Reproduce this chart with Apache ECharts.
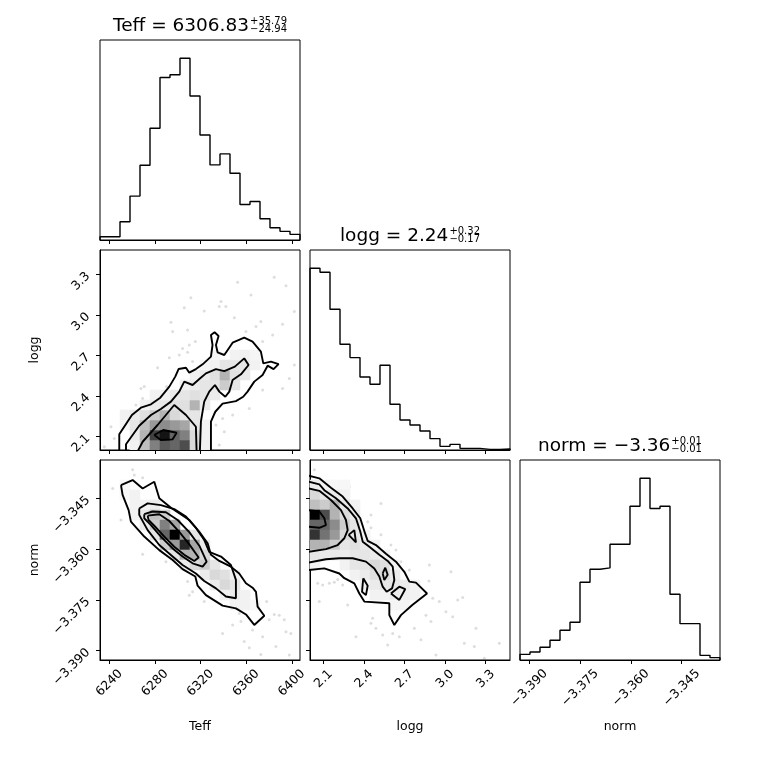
<!DOCTYPE html>
<html>
<head>
<meta charset="utf-8">
<title>corner plot</title>
<script src="https://cdn.jsdelivr.net/npm/echarts@6/dist/echarts.min.js"></script>
<style>
  html, body { margin:0; padding:0; background:#fff; }
  #chart { width:760px; height:760px; }
</style>
</head>
<body>
<div id="chart"></div>
<script>
// plotted range of each parameter (20 histogram bins across each)
const teffRange = [6231.8, 6407.2];
const loggRange = [2.0, 3.48];
const normRange = [-3.39275, -3.33369];

const teffTicks = [6240, 6280, 6320, 6360, 6400];
const loggTicks = [2.1, 2.4, 2.7, 3.0, 3.3];
const normTicks = [-3.390, -3.375, -3.360, -3.345];

// titles: label, median, +err, -err
const teffTitle = ['Teff', '6306.83', '+35.79', '\u221224.94'];
const loggTitle = ['logg', '2.24', '+0.32', '\u22120.17'];
const normTitle = ['norm', '\u22123.36', '+0.01', '\u22120.01'];

// 1D histograms (counts per bin)
const teffHist = [10, 10, 55, 132, 225, 336, 489, 497, 547, 433, 316, 226, 259, 201, 107, 116, 64, 37, 26, 17];
const loggHist = [545, 533, 422, 317, 277, 219, 197, 254, 137, 90, 75, 57, 34, 11, 17, 5, 5, 2, 2, 3];
const normHist = [17, 24, 38, 59, 89, 113, 233, 272, 276, 347, 347, 461, 545, 454, 461, 197, 109, 109, 14, 7];

// 2D density cells: [x bin, y bin, shade 0..1]
const teffLoggCells = [
  [3,0,.05],[4,0,.25],[5,0,.5],[6,0,.65],[7,0,.6],[8,0,.7],[9,0,.15],[10,0,.06],
  [3,1,.08],[4,1,.3],[5,1,.75],[6,1,.92],[7,1,.6],[8,1,.5],[9,1,.15],[10,1,.05],
  [2,2,.04],[3,2,.1],[4,2,.25],[5,2,.4],[6,2,.45],[7,2,.4],[8,2,.35],[9,2,.1],[10,2,.05],
  [2,3,.05],[3,3,.08],[4,3,.12],[5,3,.2],[6,3,.3],[7,3,.15],[8,3,.1],[9,3,.1],
  [4,4,.05],[5,4,.08],[6,4,.1],[7,4,.12],[8,4,.12],[9,4,.3],[10,4,.08],
  [5,5,.05],[6,5,.05],[7,5,.08],[8,5,.1],[9,5,.12],[10,5,.1],[11,5,.08],
  [8,6,.06],[9,6,.08],[10,6,.1],[11,6,.1],[12,6,.2],[13,6,.1],
  [9,7,.05],[10,7,.08],[11,7,.12],[12,7,.3],[13,7,.12],[14,7,.08],
  [10,8,.04],[11,8,.05],[12,8,.1],[13,8,.1],[14,8,.1],[15,8,.05],
  [11,9,.04],[13,9,.05],[14,9,.06],[15,9,.04]
];
const teffNormCells = [
  [2,17,.03],[2,16,.03],[3,16,.05],
  [3,15,.05],[4,15,.05],[5,15,.08],
  [3,14,.05],[4,14,.1],[5,14,.25],[6,14,.2],
  [4,13,.08],[5,13,.2],[6,13,.5],[7,13,.35],
  [5,12,.1],[6,12,.6],[7,12,1.0],[8,12,.4],[9,12,.1],
  [6,11,.2],[7,11,.4],[8,11,.85],[9,11,.35],[10,11,.08],
  [7,10,.1],[8,10,.3],[9,10,.3],[10,10,.15],
  [8,9,.08],[9,9,.15],[10,9,.2],[11,9,.1],
  [10,8,.08],[11,8,.15],[12,8,.12],[13,8,.05],
  [11,7,.08],[12,7,.15],[13,7,.1],
  [12,6,.05],[13,6,.08],[14,6,.05],
  [13,5,.05],[14,5,.05],[15,5,.03]
];
const loggNormCells = [
  [0,17,.08],[1,17,.05],[2,17,.03],[3,17,.03],
  [0,16,.15],[1,16,.1],[2,16,.08],[3,16,.05],
  [0,15,.25],[1,15,.2],[2,15,.3],[3,15,.1],[4,15,.05],
  [0,14,1.0],[1,14,.7],[2,14,.3],[3,14,.15],[4,14,.08],
  [0,13,.6],[1,13,.6],[2,13,.45],[3,13,.2],[4,13,.1],
  [0,12,.8],[1,12,.55],[2,12,.4],[3,12,.15],[4,12,.1],[5,12,.05],
  [0,11,.3],[1,11,.3],[2,11,.2],[3,11,.1],[4,11,.12],[5,11,.08],[6,11,.05],
  [0,10,.1],[1,10,.08],[2,10,.08],[3,10,.08],[4,10,.1],[5,10,.1],[6,10,.08],[7,10,.05],
  [0,9,.05],[3,9,.05],[4,9,.1],[5,9,.1],[6,9,.15],[7,9,.12],[8,9,.05],
  [4,8,.05],[5,8,.08],[6,8,.12],[7,8,.15],[8,8,.08],
  [5,7,.05],[6,7,.08],[7,7,.1],[8,7,.1],[9,7,.08],[10,7,.05],
  [6,6,.05],[7,6,.05],[8,6,.08],[9,6,.06],[10,6,.05],
  [8,5,.04],[9,5,.04]
];

// contour lines, traced in data units
const teffLoggContours = [
  [[6248.7,1.99],[6248.7,2.116],[6259.8,2.259],[6267.7,2.313],[6276.5,2.338],[6284.7,2.387],[6292.6,2.469],[6297.8,2.543],[6300.7,2.599],[6307.2,2.609],[6310.1,2.572],[6315.9,2.599],[6321.8,2.634],[6329.1,2.691],[6330.5,2.777],[6329.1,2.851],[6332.3,2.871],[6335.8,2.844],[6333.5,2.777],[6334.9,2.723],[6340.8,2.703],[6348.1,2.794],[6358.3,2.831],[6365.6,2.802],[6372.9,2.728],[6375.0,2.641],[6381.7,2.654],[6388.4,2.636],[6384.0,2.599],[6378.8,2.624],[6374.4,2.555],[6367.1,2.506],[6361.2,2.432],[6357.4,2.394],[6351.0,2.362],[6339.3,2.343],[6332.9,2.283],[6329.1,2.210],[6329.1,1.99]],
  [[6254.6,1.99],[6254.6,2.042],[6266.2,2.180],[6276.5,2.259],[6285.2,2.303],[6294.0,2.358],[6301.3,2.432],[6305.7,2.506],[6313.0,2.481],[6318.9,2.525],[6324.7,2.567],[6333.5,2.599],[6340.8,2.584],[6350.1,2.617],[6358.3,2.678],[6362.1,2.629],[6355.4,2.560],[6348.1,2.518],[6345.2,2.432],[6341.7,2.394],[6336.4,2.432],[6332.6,2.481],[6327.6,2.432],[6323.2,2.358],[6320.3,2.210],[6319.4,1.99]],
  [[6264.8,1.99],[6269.2,2.061],[6282.3,2.185],[6296.9,2.333],[6307.2,2.259],[6315.9,2.172],[6316.5,1.99]],
  [[6279.4,2.111],[6287.3,2.148],[6299.0,2.128],[6295.5,2.079],[6285.2,2.074],[6279.4,2.111]]
];
const teffNormContours = [
  [[6250.2,-3.3411],[6260.4,-3.3396],[6269.2,-3.3421],[6279.4,-3.3401],[6283.8,-3.3450],[6294.0,-3.3478],[6310.1,-3.3514],[6318.9,-3.3549],[6326.2,-3.3583],[6329.1,-3.3617],[6336.4,-3.3635],[6346.6,-3.3652],[6353.9,-3.3672],[6359.8,-3.3701],[6365.6,-3.3714],[6368.6,-3.3726],[6370.0,-3.3770],[6375.9,-3.3797],[6367.1,-3.3824],[6359.8,-3.3793],[6351.0,-3.3775],[6339.3,-3.3767],[6324.7,-3.3736],[6317.4,-3.3708],[6315.4,-3.3681],[6304.2,-3.3659],[6295.5,-3.3632],[6283.8,-3.3603],[6270.6,-3.3563],[6258.9,-3.3519],[6256.9,-3.3485],[6251.6,-3.3440],[6250.2,-3.3411]],
  [[6266.2,-3.3480],[6273.6,-3.3465],[6285.2,-3.3470],[6296.9,-3.3482],[6307.2,-3.3504],[6315.9,-3.3537],[6323.2,-3.3573],[6327.6,-3.3608],[6337.9,-3.3622],[6346.6,-3.3647],[6351.0,-3.3691],[6351.0,-3.3745],[6342.2,-3.3740],[6333.5,-3.3716],[6323.2,-3.3694],[6315.9,-3.3672],[6304.2,-3.3647],[6295.5,-3.3622],[6283.8,-3.3588],[6273.6,-3.3544],[6266.2,-3.3499],[6266.2,-3.3480]],
  [[6270.6,-3.3497],[6277.9,-3.3489],[6289.6,-3.3491],[6299.9,-3.3514],[6310.1,-3.3550],[6318.9,-3.3590],[6325.3,-3.3637],[6321.8,-3.3652],[6313.0,-3.3642],[6304.2,-3.3622],[6295.5,-3.3598],[6285.2,-3.3563],[6276.5,-3.3529],[6270.6,-3.3509],[6270.6,-3.3497]],
  [[6273.6,-3.3501],[6283.8,-3.3497],[6292.6,-3.3517],[6301.3,-3.3549],[6310.1,-3.3586],[6318.3,-3.3625],[6314.5,-3.3635],[6305.7,-3.3617],[6296.9,-3.3593],[6288.2,-3.3563],[6279.4,-3.3531],[6274.4,-3.3514],[6273.6,-3.3501]]
];
const loggNormContours = [
  [[1.99,-3.3383],[2.069,-3.3391],[2.155,-3.3419],[2.242,-3.3445],[2.316,-3.3480],[2.372,-3.3509],[2.407,-3.3553],[2.427,-3.3576],[2.488,-3.3588],[2.562,-3.3614],[2.636,-3.3637],[2.698,-3.3667],[2.735,-3.3696],[2.784,-3.3699],[2.866,-3.3731],[2.757,-3.3765],[2.673,-3.3795],[2.624,-3.3824],[2.587,-3.3795],[2.587,-3.3760],[2.402,-3.3755],[2.365,-3.3731],[2.328,-3.3701],[2.254,-3.3686],[2.217,-3.3672],[2.106,-3.3657],[1.99,-3.3662]],
  [[1.99,-3.3401],[2.069,-3.3409],[2.106,-3.3426],[2.192,-3.3450],[2.279,-3.3480],[2.340,-3.3509],[2.372,-3.3548],[2.390,-3.3578],[2.439,-3.3593],[2.513,-3.3617],[2.575,-3.3635],[2.612,-3.3652],[2.624,-3.3691],[2.607,-3.3716],[2.567,-3.3726],[2.538,-3.3711],[2.513,-3.3681],[2.476,-3.3657],[2.414,-3.3637],[2.316,-3.3627],[2.217,-3.3627],[2.118,-3.3630],[1.99,-3.3640]],
  [[1.99,-3.3421],[2.069,-3.3428],[2.155,-3.3455],[2.229,-3.3485],[2.266,-3.3514],[2.279,-3.3544],[2.254,-3.3568],[2.205,-3.3588],[2.118,-3.3600],[1.99,-3.3608]],
  [[1.99,-3.3485],[2.069,-3.3489],[2.106,-3.3509],[2.118,-3.3529],[2.069,-3.3537],[1.99,-3.3534]],
  [[2.286,-3.3558],[2.328,-3.3544],[2.340,-3.3580],[2.286,-3.3558]],
  [[2.538,-3.3672],[2.557,-3.3655],[2.575,-3.3676],[2.550,-3.3691],[2.538,-3.3672]],
  [[2.394,-3.3686],[2.427,-3.3708],[2.414,-3.3736],[2.385,-3.3726],[2.394,-3.3686]],
  [[2.599,-3.3731],[2.661,-3.3711],[2.705,-3.3718],[2.661,-3.3750],[2.599,-3.3731]]
];

// individual samples outside the outer contour
const teffLoggPoints = [
  [6352.5,3.241],[6384.6,3.278],[6394.9,3.216],[6364.2,3.147],[6337.9,3.098],[6342.2,3.061],[6336.4,3.061],[6311.5,3.127],
  [6305.7,3.053],[6323.2,3.029],[6402.2,3.024],[6349.6,2.979],[6372.9,2.950],[6391.9,2.930],[6294.0,2.945],[6308.6,2.888],
  [6295.5,2.876],[6368.6,2.913],[6359.8,2.876],[6315.4,2.802],[6310.1,2.777],[6304.2,2.752],[6301.3,2.703],[6292.6,2.683],
  [6313.0,2.654],[6308.6,2.723],[6282.3,2.609],[6267.7,2.456],[6270.6,2.469],[6285.2,2.432],[6290.2,2.469],[6269.2,2.382],
  [6263.3,2.333],[6241.4,2.172],[6244.3,2.086],[6235.6,2.024],[6339.3,2.234],[6333.5,2.185],[6340.8,2.135],[6348.1,2.259],
  [6336.4,2.037],[6362.7,2.308],[6374.4,2.444],[6391.9,2.456],[6397.8,2.530],[6402.2,2.629],[6374.4,2.802],[6383.2,2.851]
];
const teffNormPoints = [
  [6242.9,-3.3421],[6260.4,-3.3366],[6261.9,-3.3381],[6269.2,-3.3389],[6250.2,-3.3514],[6269.2,-3.3615],[6289.6,-3.3637],
  [6310.1,-3.3736],[6313.0,-3.3726],[6308.6,-3.3696],[6339.3,-3.3849],[6348.1,-3.3824],[6358.3,-3.3873],[6365.6,-3.3839],
  [6374.4,-3.3859],[6380.2,-3.3809],[6384.6,-3.3793],[6389.0,-3.3795],[6393.4,-3.3809],[6394.9,-3.3844],[6399.2,-3.3849],
  [6397.8,-3.3913],[6372.9,-3.3911],[6362.7,-3.3891],[6386.1,-3.3888],[6353.9,-3.3790],[6355.4,-3.3814],[6378.0,-3.3755],
  [6323.2,-3.3755]
];
const loggNormPoints = [
  [2.032,-3.3366],[2.242,-3.3416],[2.291,-3.3416],[2.353,-3.3475],[2.451,-3.3499],[2.525,-3.3465],[2.427,-3.3519],
  [2.451,-3.3537],[2.525,-3.3558],[2.599,-3.3588],[2.636,-3.3603],[2.673,-3.3637],[2.735,-3.3662],[2.883,-3.3647],
  [3.043,-3.3667],[3.093,-3.3750],[3.130,-3.3743],[2.957,-3.3755],[3.006,-3.3785],[3.056,-3.3800],[2.880,-3.3694],
  [2.908,-3.3745],[2.858,-3.3795],[2.895,-3.3814],[2.772,-3.3834],[2.661,-3.3859],[2.538,-3.3854],[2.612,-3.3849],
  [2.575,-3.3883],[2.463,-3.3804],[2.488,-3.3834],[2.451,-3.3819],[2.340,-3.3859],[2.821,-3.3868],[2.932,-3.3913],
  [3.228,-3.3834],[3.142,-3.3878],[3.216,-3.3888],[3.290,-3.3922],[3.401,-3.3878],[2.057,-3.3701],[2.094,-3.3706],
  [2.143,-3.3701],[2.180,-3.3698],[2.242,-3.3706],[2.069,-3.3755],[2.279,-3.3765],[2.205,-3.3690]
];

const FONT = 'DejaVu Sans';
const PANEL = 200, GAP = 10, LEFT0 = 100, TOP0 = 40;
const panels = [[0, 0], [1, 0], [1, 1], [2, 0], [2, 1], [2, 2]]; // [row, col]

const fmtTeff = v => String(Math.round(v));
const fmtLogg = v => v.toFixed(1);
const fmtNorm = v => v.toFixed(3).replace('-', '\u2212');

function xAxis(gi, range, ticks, fmt, name, margin) {
  return {
    type: 'value', gridIndex: gi, min: range[0], max: range[1],
    axisLine: { show: true, onZero: false, lineStyle: { color: '#000', width: 1 } },
    axisTick: { show: true, inside: false, length: 4, customValues: ticks, lineStyle: { color: '#000' } },
    axisLabel: fmt ? {
      show: true, customValues: ticks, formatter: fmt, rotate: 45, align: 'center', verticalAlign: 'middle',
      margin: margin, color: '#000', fontSize: 12.5, fontFamily: FONT
    } : { show: false },
    splitLine: { show: false },
    name: name || '', nameLocation: 'middle', nameGap: 60,
    nameTextStyle: { color: '#000', fontSize: 12.5, fontFamily: FONT }
  };
}
function yAxis(gi, range, ticks, fmt, name) {
  return {
    type: 'value', gridIndex: gi, min: range[0], max: range[1],
    axisLine: { show: true, onZero: false, lineStyle: { color: '#000', width: 1 } },
    axisTick: { show: true, inside: false, length: 4, customValues: ticks, lineStyle: { color: '#000' } },
    axisLabel: fmt ? {
      show: true, customValues: ticks, formatter: fmt, rotate: 45, margin: 12,
      color: '#000', fontSize: 12.5, fontFamily: FONT
    } : { show: false },
    splitLine: { show: false },
    name: name || '', nameLocation: 'middle', nameGap: 59,
    nameTextStyle: { color: '#000', fontSize: 12.5, fontFamily: FONT }
  };
}
function histYAxis(gi, counts) {
  return { type: 'value', gridIndex: gi, min: 0, max: 1.1 * Math.max(...counts), show: false };
}

function histSeries(gi, range, counts) {
  const w = (range[1] - range[0]) / counts.length;
  const pts = [[range[0], 0]];
  counts.forEach((c, k) => pts.push([range[0] + k * w, c]));
  pts.push([range[1], counts[counts.length - 1]], [range[1], 0]);
  return {
    type: 'line', xAxisIndex: gi, yAxisIndex: gi, data: pts, step: 'end', showSymbol: false,
    lineStyle: { color: '#000', width: 1.4 }, silent: true, clip: true, z: 3
  };
}
function cellSeries(gi, xr, yr, cells) {
  const dx = (xr[1] - xr[0]) / 20, dy = (yr[1] - yr[0]) / 20;
  return {
    type: 'custom', xAxisIndex: gi, yAxisIndex: gi, clip: true, silent: true, z: 2,
    data: cells.map(c => [xr[0] + c[0] * dx, yr[0] + c[1] * dy, c[2]]),
    renderItem(params, api) {
      const a = api.coord([api.value(0), api.value(1) + dy]);
      const b = api.coord([api.value(0) + dx, api.value(1)]);
      const g = Math.round(255 * (1 - api.value(2)));
      const col = 'rgb(' + g + ',' + g + ',' + g + ')';
      return { type: 'rect', shape: { x: a[0], y: a[1], width: b[0] - a[0], height: b[1] - a[1] },
               style: { fill: col, stroke: col, lineWidth: 0.6 } };
    }
  };
}
function contourSeries(gi, lines) {
  return lines.map(l => ({
    type: 'line', xAxisIndex: gi, yAxisIndex: gi, data: l, showSymbol: false, silent: true,
    lineStyle: { color: '#000', width: 1.9 }, clip: true, z: 4
  }));
}
function pointSeries(gi, pts) {
  return {
    type: 'scatter', xAxisIndex: gi, yAxisIndex: gi, data: pts, symbolSize: 3, silent: true,
    itemStyle: { color: 'rgba(0,0,0,0.17)' }, clip: true, z: 1
  };
}

// titles with stacked super/subscripts, measured with a canvas
const ctx = document.createElement('canvas').getContext('2d');
function textWidth(t, size) { ctx.font = size + 'px "' + FONT + '"'; return ctx.measureText(t).width; }
function titleGraphics(t, col, row) {
  const main = t[0] + ' = ' + t[1];
  const wm = textWidth(main, 18.5), ws = Math.max(textWidth(t[2], 10), textWidth(t[3], 10));
  const cx = LEFT0 + col * (PANEL + GAP) + PANEL / 2;
  const top = TOP0 + row * (PANEL + GAP);
  const x0 = cx - (wm + 1 + ws) / 2;
  const base = { fill: '#000', textAlign: 'left', textVerticalAlign: 'middle' };
  return [
    { type: 'text', silent: true, style: Object.assign({ text: main, x: x0, y: top - 13.5, font: '18.5px "' + FONT + '"' }, base) },
    { type: 'text', silent: true, style: Object.assign({ text: t[2], x: x0 + wm + 1, y: top - 19, font: '10px "' + FONT + '"' }, base) },
    { type: 'text', silent: true, style: Object.assign({ text: t[3], x: x0 + wm + 1, y: top - 10.5, font: '10px "' + FONT + '"' }, base) }
  ];
}

const option = {
  animation: false,
  backgroundColor: '#fff',
  grid: panels.map(([r, c]) => ({
    left: LEFT0 + c * (PANEL + GAP), top: TOP0 + r * (PANEL + GAP), width: PANEL, height: PANEL,
    show: true, borderColor: '#000', borderWidth: 1, backgroundColor: 'transparent'
  })),
  xAxis: [
    xAxis(0, teffRange, teffTicks),
    xAxis(1, teffRange, teffTicks),
    xAxis(2, loggRange, loggTicks),
    xAxis(3, teffRange, teffTicks, fmtTeff, 'Teff', 23),
    xAxis(4, loggRange, loggTicks, fmtLogg, 'logg', 19),
    xAxis(5, normRange, normTicks, fmtNorm, 'norm', 28)
  ],
  yAxis: [
    histYAxis(0, teffHist),
    yAxis(1, loggRange, loggTicks, fmtLogg, 'logg'),
    histYAxis(2, loggHist),
    yAxis(3, normRange, normTicks, fmtNorm, 'norm'),
    yAxis(4, normRange, normTicks),
    histYAxis(5, normHist)
  ],
  series: [
    histSeries(0, teffRange, teffHist),
    histSeries(2, loggRange, loggHist),
    histSeries(5, normRange, normHist),
    pointSeries(1, teffLoggPoints),
    pointSeries(3, teffNormPoints),
    pointSeries(4, loggNormPoints),
    cellSeries(1, teffRange, loggRange, teffLoggCells),
    cellSeries(3, teffRange, normRange, teffNormCells),
    cellSeries(4, loggRange, normRange, loggNormCells),
    ...contourSeries(1, teffLoggContours),
    ...contourSeries(3, teffNormContours),
    ...contourSeries(4, loggNormContours)
  ],
  graphic: [
    ...titleGraphics(teffTitle, 0, 0),
    ...titleGraphics(loggTitle, 1, 1),
    ...titleGraphics(normTitle, 2, 2)
  ]
};

echarts.init(document.getElementById('chart'), null, { renderer: 'canvas' }).setOption(option);
</script>
</body>
</html>
